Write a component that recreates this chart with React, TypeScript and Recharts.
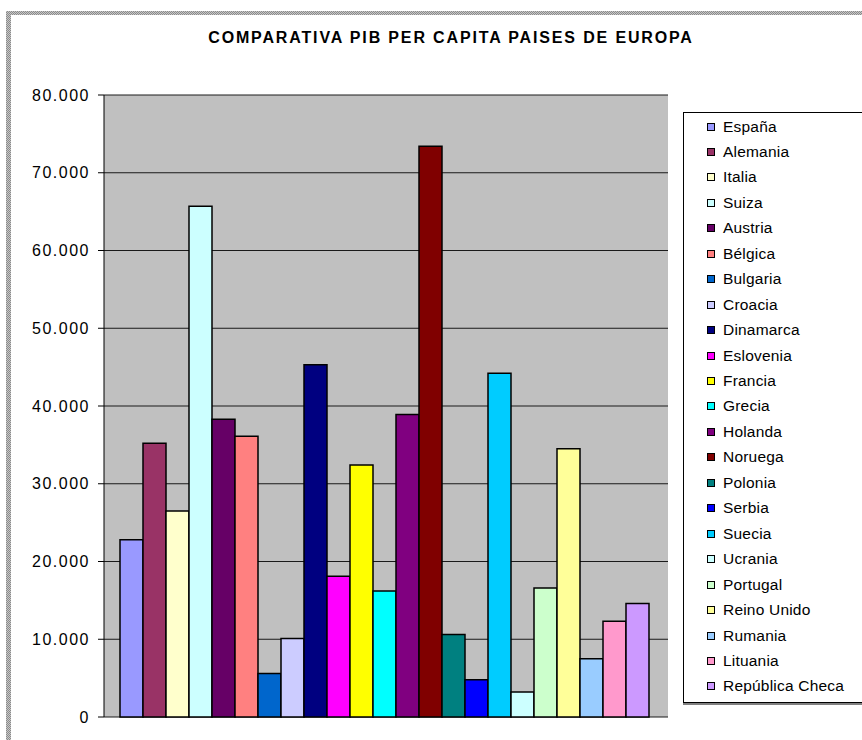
import React from 'react'
import { BarChart, Bar, XAxis, YAxis, CartesianGrid } from 'recharts'

const countries = [
  'España', 'Alemania', 'Italia', 'Suiza', 'Austria', 'Bélgica', 'Bulgaria', 'Croacia',
  'Dinamarca', 'Eslovenia', 'Francia', 'Grecia', 'Holanda', 'Noruega', 'Polonia', 'Serbia',
  'Suecia', 'Ucrania', 'Portugal', 'Reino Unido', 'Rumania', 'Lituania', 'República Checa',
]

const gdpPerCapita = [
  22800, 35200, 26500, 65700, 38300, 36100, 5600, 10100,
  45300, 18100, 32400, 16200, 38900, 73400, 10600, 4800,
  44200, 3200, 16600, 34500, 7500, 12300, 14600,
]

const colors = [
  '#9999FF', '#993366', '#FFFFCC', '#CCFFFF', '#660066', '#FF8080', '#0066CC', '#CCCCFF',
  '#000080', '#FF00FF', '#FFFF00', '#00FFFF', '#800080', '#800000', '#008080', '#0000FF',
  '#00CCFF', '#CCFFFF', '#CCFFCC', '#FFFF99', '#99CCFF', '#FF99CC', '#CC99FF',
]

const yTicks = [0, 10000, 20000, 30000, 40000, 50000, 60000, 70000, 80000]

const title = 'COMPARATIVA PIB PER CAPITA PAISES DE EUROPA'

const FONT = '"Liberation Sans", Arial, sans-serif'

// one category row, one key per country
const row: Record<string, string | number> = { name: '' }
countries.forEach((c, i) => {
  row[c] = gdpPerCapita[i]
})
const chartData = [row]

const fmt = (v: number) => String(v).replace(/\B(?=(\d{3})+(?!\d))/g, '.')

const pattern = 'repeating-conic-gradient(#8a8a8a 0% 25%, #c8c8c8 0% 50%) 0 0 / 2px 2px'

export default function App() {
  return (
    <div
      style={{
        position: 'absolute',
        left: 0,
        top: 0,
        width: 862,
        height: 740,
        background: '#fff',
        overflow: 'hidden',
        fontFamily: FONT,
      }}
    >
      {/* worksheet frame */}
      <div style={{ position: 'absolute', left: 6, top: 11, width: 856, height: 4, background: pattern }} />
      <div style={{ position: 'absolute', left: 6, top: 11, width: 5, height: 729, background: pattern }} />

      <div
        style={{
          position: 'absolute',
          left: 0,
          top: 30,
          width: 902,
          textAlign: 'center',
          fontSize: 16,
          fontWeight: 'bold',
          letterSpacing: 1.85,
          color: '#000',
          lineHeight: '15px',
        }}
      >
        {title}
      </div>

      <BarChart
        width={862}
        height={740}
        data={chartData}
        margin={{ top: 95, right: 194, left: 44, bottom: 23 }}
        barCategoryGap={16}
        barGap={0}
        style={{ position: 'absolute', left: 0, top: 0 }}
      >
        <CartesianGrid
          vertical={false}
          fill="#C0C0C0"
          fillOpacity={1}
          stroke="#1a1a1a"
          horizontalValues={yTicks}
        />
        <XAxis dataKey="name" height={0} tick={false} tickLine={false} axisLine={{ stroke: '#000' }} />
        <YAxis
          width={60}
          domain={[0, 80000]}
          ticks={yTicks}
          interval={0}
          tickFormatter={fmt}
          tickSize={6}
          tickMargin={8}
          tickLine={{ stroke: '#000' }}
          axisLine={{ stroke: '#000' }}
          tick={{ fill: '#000', fontSize: 16, fontFamily: FONT, letterSpacing: 1.5 }}
        />
        <YAxis
          yAxisId="right"
          orientation="right"
          width={0}
          domain={[0, 80000]}
          tick={false}
          tickLine={false}
          axisLine={{ stroke: '#808080', strokeWidth: 2 }}
        />
        {countries.map((c, i) => (
          <Bar
            key={c}
            dataKey={c}
            fill={colors[i]}
            stroke="#000"
            strokeWidth={1.5}
            isAnimationActive={false}
          />
        ))}
      </BarChart>

      {/* legend */}
      <div
        style={{
          position: 'absolute',
          left: 683,
          top: 112,
          width: 190,
          height: 589,
          border: '1px solid #000',
          boxShadow: '0 2px 0 #808080',
          background: '#fff',
        }}
      >
        {countries.map((c, i) => (
          <div
            key={c}
            style={{
              position: 'absolute',
              left: 23,
              top: 1 + i * 25.45,
              height: 25,
              display: 'flex',
              alignItems: 'center',
              fontSize: 15.5,
              letterSpacing: 0.2,
              whiteSpace: 'nowrap',
              color: '#000',
            }}
          >
            <span
              style={{
                display: 'inline-block',
                width: 6,
                height: 6,
                border: '1px solid #000',
                background: colors[i],
                marginRight: 8,
              }}
            />
            {c}
          </div>
        ))}
      </div>
    </div>
  )
}
